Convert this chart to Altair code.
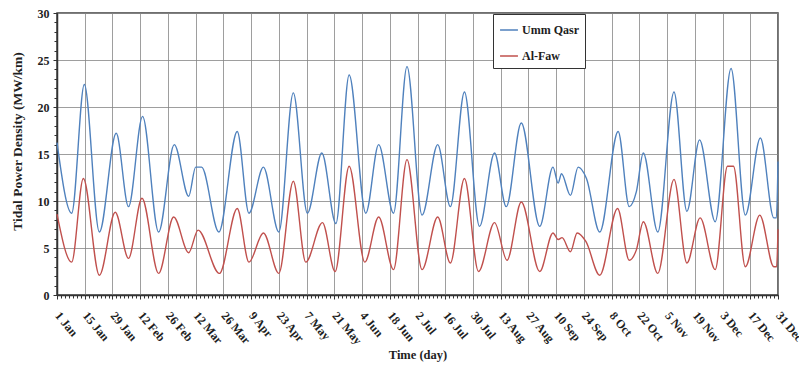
import altair as alt
import pandas as pd

# ---- data ----
series = ["Umm Qasr", "Al-Faw"]
colors = ["#4f81bd", "#c0504d"]

uq_day = [1, 8.4, 14.8, 22.4, 30.9, 37.1, 44.2, 52.3, 60.2, 67.5, 71, 74, 82.7, 92, 97.9,
          105.2, 113, 120.3, 127.4, 134.7, 141.8, 148.5, 156.9, 163.4, 170.9, 177.7, 185.3,
          193.2, 199.6, 206.7, 214.3, 221.9, 227.8, 235.4, 244.7, 251.4, 254, 255.7, 260.2,
          264.1, 268.3, 275, 284.3, 289.9, 293.5, 297, 304.3, 312.5, 319, 325.4, 333.3,
          341.3, 348.5, 356.1, 362.9, 364.2, 365]
uq_val = [16.2, 8.7, 22.4, 6.7, 17.2, 9.4, 19.0, 6.7, 16.0, 10.5, 13.6, 13.6, 6.7, 17.4, 8.7,
          13.6, 6.7, 21.5, 8.7, 15.1, 7.6, 23.4, 8.7, 16.0, 8.7, 24.3, 8.5,
          16.0, 9.4, 21.6, 7.3, 15.1, 9.4, 18.3, 7.3, 13.6, 11.9, 12.9, 10.6,
          13.6, 12.4, 6.7, 17.4, 9.4, 11.0, 15.1, 6.7, 21.6, 8.9, 16.5, 7.8,
          24.1, 8.5, 16.7, 8.2, 8.2, 14.2]

faw_day = [1, 8.4, 14.3, 22.4, 30.4, 37.1, 43.9, 52.3, 59.9, 67.5, 72.2, 83, 92, 97.9,
           105.2, 113, 120.3, 126.6, 135, 141.4, 148.5, 156.4, 163.4, 170.9, 177.7, 185.3,
           193.2, 199.6, 206.7, 213.8, 221.9, 228.2, 235.4, 244.7, 251.4, 254, 256, 260.2,
           263.6, 268, 275, 284, 289.9, 293.5, 297, 304.3, 312.5, 319, 325.7, 333.3,
           339.5, 342.5, 348.5, 355.8, 362.9, 364.3, 365]
faw_val = [8.6, 3.5, 12.4, 2.1, 8.8, 3.9, 10.3, 2.3, 8.3, 4.5, 6.9, 2.3, 9.2, 3.5,
           6.6, 2.3, 12.1, 3.5, 7.7, 2.5, 13.7, 3.5, 8.3, 2.7, 14.4, 2.7,
           8.3, 3.4, 12.4, 2.5, 7.7, 3.7, 9.9, 2.5, 6.6, 5.9, 6.1, 4.6,
           6.6, 5.7, 2.1, 9.2, 3.7, 4.8, 7.8, 2.3, 12.3, 3.4, 8.2, 2.7,
           13.7, 13.7, 3.0, 8.5, 3.0, 3.0, 7.0]

tick_days = list(range(1, 366, 14))
tick_labels = ["1 Jan", "15 Jan", "29 Jan", "12 Feb", "26 Feb", "12 Mar", "26 Mar", "9 Apr",
               "23 Apr", "7 May", "21 May", "4 Jun", "18 Jun", "2 Jul", "16 Jul", "30 Jul",
               "13 Aug", "27 Aug", "10 Sep", "24 Sep", "8 Oct", "22 Oct", "5 Nov", "19 Nov",
               "3 Dec", "17 Dec", "31 Dec"]
y_ticks = [0, 5, 10, 15, 20, 25, 30]
y_minor = list(range(0, 31))
x_minor = list(range(1, 366, 2))

df = pd.concat([
    pd.DataFrame({"day": uq_day, "value": uq_val, "site": series[0]}),
    pd.DataFrame({"day": faw_day, "value": faw_val, "site": series[1]}),
], ignore_index=True)

label_expr = "[" + ",".join("'%s'" % l for l in tick_labels) + "][round((datum.value - 1) / 14)]"

FONT = "Liberation Serif"
GRID = "#858585"
INK = "#1e1e1e"

xscale = alt.Scale(domain=[1, 365], nice=False, zero=False)
yscale = alt.Scale(domain=[0, 30], nice=False)

lines = alt.Chart(df).mark_line(strokeWidth=1.4, interpolate="monotone").encode(
    x=alt.X("day:Q", scale=xscale, axis=alt.Axis(
        values=tick_days, labelExpr=label_expr, labelAngle=50, labelAlign="left",
        labelBaseline="middle", labelPadding=14, labelFont=FONT, labelFontWeight="bold",
        labelFontSize=12, labelColor=INK, labelOverlap=False, labelBound=False,
        title="Time (day)", titleFont=FONT, titleFontWeight="bold", titleFontSize=12.5,
        titleColor=INK, titleY=53, titleBaseline="top",
        grid=True, gridColor=GRID, gridWidth=0.8, gridOpacity=1,
        domainColor="#333", domainWidth=1.5, tickColor="#333", tickSize=4)),
    y=alt.Y("value:Q", scale=yscale, axis=alt.Axis(
        values=y_ticks, labelFont=FONT, labelFontWeight="bold", labelFontSize=12,
        labelColor=INK, labelPadding=4,
        title="Tidal Power Density (MW/km)", titleFont=FONT, titleFontWeight="bold",
        titleFontSize=13.5, titleColor=INK, titleX=-33, titleY=128, titleBaseline="bottom",
        grid=True, gridColor=GRID, gridWidth=0.8, gridOpacity=1,
        domainColor="#333", domainWidth=1.5, tickColor="#333", tickSize=4)),
    color=alt.Color("site:N", sort=series, scale=alt.Scale(domain=series, range=colors),
                    legend=alt.Legend(title=None, orient="none", legendX=436, legendY=1,
                                      direction="vertical", strokeColor="#333",
                                      fillColor="white", padding=6, rowPadding=10,
                                      symbolType="stroke", symbolStrokeWidth=1.5,
                                      symbolSize=320, labelFont=FONT,
                                      labelFontWeight="bold", labelFontSize=12,
                                      labelOffset=3, labelColor=INK)),
)

minor = alt.Chart(df).mark_point(opacity=0).encode(
    x=alt.X("day:Q", scale=xscale, axis=alt.Axis(
        values=x_minor, labels=False, grid=False, domain=False, title=None,
        tickSize=3, tickColor="#333", orient="bottom")),
    y=alt.Y("value:Q", scale=yscale, axis=alt.Axis(
        values=y_minor, labels=False, grid=False, domain=False, title=None,
        tickSize=3, tickColor="#333", orient="left")),
)

chart = alt.layer(lines, minor).resolve_axis(x="independent", y="independent").properties(
    width=721, height=282,
    autosize=alt.AutoSizeParams(type="none"),
    padding={"left": 49, "top": 5, "right": 21, "bottom": 71},
    background="white",
).configure_view(stroke="#404040", strokeWidth=1.5)

chart.save("out.html", embed_options={"renderer": "svg", "actions": False})
